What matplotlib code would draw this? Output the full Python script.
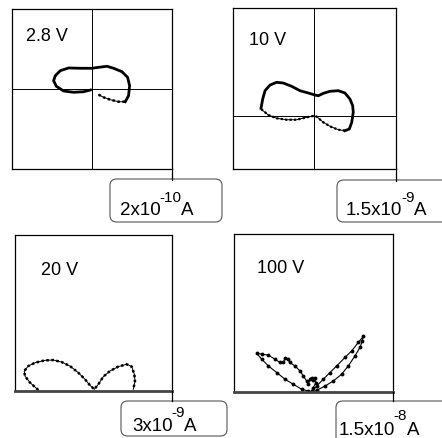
import numpy as np
import matplotlib
matplotlib.use("Agg")
import matplotlib.pyplot as plt
from matplotlib.patches import FancyBboxPatch

plt.rcParams['font.family'] = ['Liberation Sans', 'DejaVu Sans']

W, H = 442, 439

# current loops, normalised to full scale of each panel
v28_x = [0.083, 0.145, 0.229, 0.332, 0.416, 0.457, 0.470, 0.445, 0.375, 0.270, 0.188, 0.082,
         0.0, -0.146, -0.292, -0.396, -0.459, -0.480, -0.446, -0.355, -0.230, -0.105, -0.021]
v28_y = [-0.071, -0.104, -0.134, -0.159, -0.159, -0.084, 0.041, 0.146, 0.216, 0.259, 0.284, 0.271,
         0.259, 0.259, 0.263, 0.229, 0.166, 0.104, 0.034, -0.025, -0.041, -0.034, -0.013]

v10_x = [-0.662, -0.641, -0.612, -0.550, -0.467, -0.385, -0.281, -0.178, -0.075, 0.009, 0.050,
         0.112, 0.195, 0.298, 0.381, 0.443, 0.477, 0.484, 0.465, 0.435, 0.381, 0.298, 0.195,
         0.112, 0.030, 0.0, -0.094, -0.219, -0.343, -0.467, -0.571, -0.653]
v10_y = [0.092, 0.207, 0.311, 0.381, 0.415, 0.406, 0.365, 0.311, 0.282, 0.257, 0.248,
         0.278, 0.303, 0.311, 0.282, 0.207, 0.124, 0.042, -0.082, -0.165, -0.186, -0.174, -0.132,
         -0.082, -0.012, 0.0, -0.020, -0.050, -0.050, -0.032, 0.009, 0.075]

v20_x = [-0.703, -0.809, -0.873, -0.882, -0.831, -0.745, -0.618, -0.512, -0.405, -0.299, -0.194,
         -0.108, -0.045, 0.010, 0.061, 0.125, 0.210, 0.316, 0.423, 0.487, 0.520, 0.529, 0.507]
v20_y = [0.013, 0.107, 0.191, 0.255, 0.318, 0.361, 0.391, 0.395, 0.369, 0.318, 0.234,
         0.149, 0.073, 0.022, 0.085, 0.183, 0.255, 0.311, 0.341, 0.311, 0.213, 0.127, 0.022]

v100_x = [-0.023, -0.003, 0.031, 0.019, -0.003, -0.023, -0.044, -0.065, -0.086, -0.128, -0.170,
          -0.233, -0.296, -0.325, -0.358, -0.380, -0.421, -0.484, -0.568, -0.652, -0.715,
          -0.652, -0.568, -0.463, -0.358, -0.254, -0.148, -0.065, -0.023,
          0.040, 0.123, 0.208, 0.292, 0.396, 0.481, 0.564, 0.626, 0.614, 0.585, 0.522, 0.438,
          0.354, 0.249, 0.145, 0.040, -0.003]
v100_y = [0.013, 0.055, 0.118, 0.181, 0.151, 0.181, 0.160, 0.097, 0.138, 0.201, 0.264,
          0.327, 0.370, 0.411, 0.420, 0.370, 0.370, 0.411, 0.462, 0.474, 0.487,
          0.411, 0.327, 0.244, 0.160, 0.097, 0.034, 0.013, 0.005,
          0.075, 0.160, 0.244, 0.327, 0.433, 0.516, 0.621, 0.697, 0.642, 0.558, 0.453, 0.327,
          0.223, 0.138, 0.075, 0.021, 0.005]

voltages = ['2.8 V', '10 V', '20 V', '100 V']
scale_mant = ['2x10', '1.5x10', '3x10', '1.5x10']
scale_exp = ['-10', '-9', '-9', '-8']
unit = 'A'

fig = plt.figure(figsize=(W / 100, H / 100), dpi=100)
renderer = fig.canvas.get_renderer()


def add_panel(x0, y0, x1, y1, xlim, ylim):
    ax = fig.add_axes([x0 / W, 1 - y1 / H, (x1 - x0) / W, (y1 - y0) / H])
    ax.set_xlim(*xlim)
    ax.set_ylim(*ylim)
    ax.set_xticks([])
    ax.set_yticks([])
    for s in ax.spines.values():
        s.set_linewidth(0.9)
    return ax


def beaded(ax, x, y, lw=1.6):
    ax.plot(x, y, color='k', lw=0.7)
    ax.plot(x, y, color='k', lw=lw, ls=(0, (1.0, 1.0)))


def fig_line(xs, ys):
    fig.add_artist(plt.Line2D([x / W for x in xs], [1 - y / H for y in ys],
                              color='k', lw=0.9))


def ptext(x, y, s, size):
    # place text by pixel position (x from left, y baseline from top)
    t = fig.text(x / W, 1 - y / H, s, fontsize=size, va='baseline', ha='left')
    return t.get_window_extent(renderer).x1


def scale_box(x0, y0, x1, y1, i, tx, ty, rise=13.5):
    box = FancyBboxPatch((x0 / W, 1 - y1 / H), (x1 - x0) / W, (y1 - y0) / H,
                         boxstyle='round,pad=0,rounding_size=0.015',
                         transform=fig.transFigure, fc='none', ec='#555555', lw=0.8)
    fig.add_artist(box)
    xe = ptext(tx, ty, scale_mant[i], 13.5)
    xe = ptext(xe - 1.5, ty - rise, scale_exp[i], 11)
    ptext(xe - 0.5, ty, unit, 13.5)


# 2.8 V
ax1 = add_panel(12, 10, 172, 170, (-1, 1), (-1, 1))
ax1.axhline(0, color='k', lw=0.7)
ax1.axvline(0, color='k', lw=0.7)
beaded(ax1, v28_x[:5], v28_y[:5], lw=1.8)
ax1.plot(v28_x[4:], v28_y[4:], color='k', lw=2.0)
ptext(26, 41, voltages[0], 13)

# 10 V
ax2 = add_panel(233, 9, 396, 170, (-1.01, 1.015), (-0.662, 1.338))
ax2.axhline(0, color='k', lw=0.7)
ax2.axvline(0, color='k', lw=0.7)
ax2.plot(v10_x[:21], v10_y[:21], color='k', lw=2.0)
beaded(ax2, v10_x[20:] + v10_x[:1], v10_y[20:] + v10_y[:1], lw=1.6)
ptext(249, 45, voltages[1], 13)

# 20 V
ax3 = add_panel(15, 236, 172, 392, (-1, 1), (0, 1.99))
ax3.spines['bottom'].set_linewidth(2.0)
ax3.spines['bottom'].set_color('#444444')
beaded(ax3, v20_x, v20_y, lw=1.8)
ptext(41, 275, voltages[2], 13)

# 100 V
ax4 = add_panel(234, 235, 393, 393, (-1, 1), (0, 1.98))
ax4.spines['bottom'].set_linewidth(2.0)
ax4.spines['bottom'].set_color('#444444')
ax4.plot(v100_x, v100_y, color='k', lw=0.8, marker='o', ms=1.8)
ptext(257, 273, voltages[3], 13)

# scale connectors and boxes
fig_line([172, 172], [170, 181])
fig_line([396, 396], [170, 182])
fig_line([172, 172], [392, 402])
fig_line([393, 393], [393, 402])

scale_box(110, 180, 222, 223, 0, 120, 215)
scale_box(337, 181, 470, 223, 1, 346, 215)
scale_box(121, 402, 227, 437, 2, 132, 431)
scale_box(336, 402, 470, 460, 3, 339, 435, rise=15)

fig.savefig('out.png', dpi=100)
